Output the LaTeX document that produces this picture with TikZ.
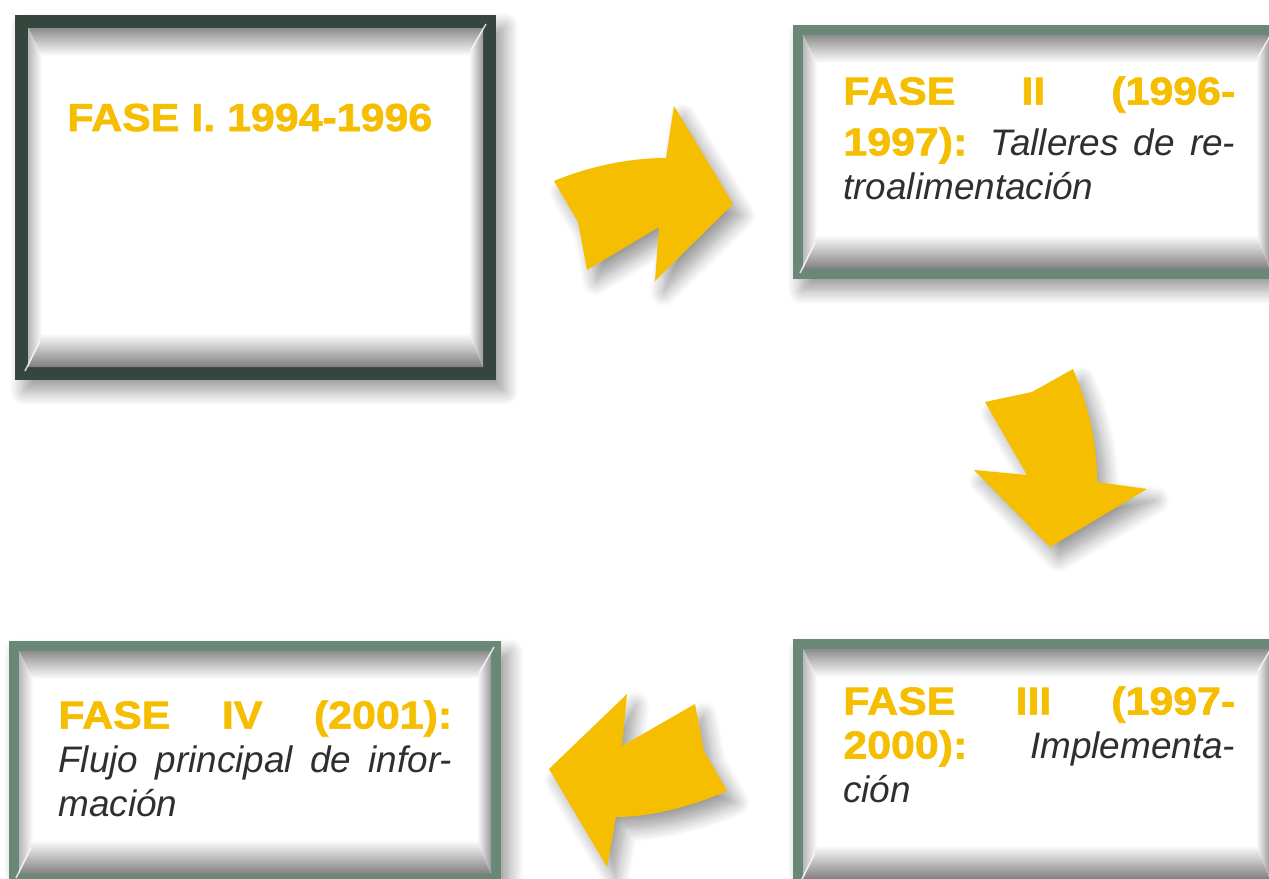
\documentclass[tikz,border=0pt]{standalone}
\usepackage{fontspec}
\setmainfont{Liberation Sans}
\newfontfamily\fasefont[FakeStretch=1.1,FakeBold=1.6]{Liberation Sans}
\usetikzlibrary{shadows.blur}

\definecolor{amarillo}{HTML}{F6BE00}
\definecolor{verdeoscuro}{HTML}{36463E}
\definecolor{verdegris}{HTML}{6A8878}
\definecolor{textogris}{HTML}{2F2F2F}

\tikzset{
  sombra/.style={blur shadow={shadow xshift=5pt, shadow yshift=-6.5pt,
      shadow blur radius=8pt, shadow blur steps=12, shadow opacity=40}},
  flecha/.style={fill=amarillo, sombra},
  fase/.style={inner sep=0pt, text=amarillo,
      font=\fasefont\bfseries\fontsize{22.2}{25}\selectfont},
  descripcion/.style={inner sep=0pt, anchor=north west, align=justify,
      text=textogris, font=\fontsize{21}{25}\selectfont\itshape}
}

% titulo amarillo dentro del texto
\newcommand{\fase}[1]{{\fasefont\bfseries\upshape\fontsize{22.2}{25}\selectfont\color{amarillo}#1}}

% marco con bisel: x0 y0 x1 y1 color grosor
\newcommand{\marco}[6]{%
  \fill[#5, sombra] (#1,#2) rectangle (#3,#4);
  \fill[white] (#1+#6,#2+#6) rectangle (#3-#6,#4-#6);
  \shade[top color=black!45, middle color=black!8, bottom color=white]
    (#1+#6,#2+#6) -- (#3-#6,#2+#6) -- (#3-#6-14,#2+#6+28) -- (#1+#6+14,#2+#6+28) -- cycle;
  \shade[top color=white, middle color=black!10, bottom color=black!50]
    (#1+#6,#4-#6) -- (#3-#6,#4-#6) -- (#3-#6-14,#4-#6-34) -- (#1+#6+14,#4-#6-34) -- cycle;
  \shade[left color=black!28, right color=white]
    (#1+#6,#2+#6) -- (#1+#6+14,#2+#6+28) -- (#1+#6+14,#4-#6-34) -- (#1+#6,#4-#6) -- cycle;
  \shade[left color=white, right color=black!40]
    (#3-#6,#2+#6) -- (#3-#6-14,#2+#6+28) -- (#3-#6-14,#4-#6-34) -- (#3-#6,#4-#6) -- cycle;
  \draw[white, line width=0.8pt, opacity=0.8] (#3-#6+3,#2+#6-4) -- (#3-#6-12,#2+#6+22);
  \draw[white, line width=0.8pt, opacity=0.8] (#1+#6-3,#4-#6+4) -- (#1+#6+12,#4-#6-26);
}

\begin{document}
\begin{tikzpicture}[x=0.02cm,y=-0.02cm]
  \clip (0,0) rectangle (1269,879);
  % marcos
  \marco{15}{15}{496}{380}{verdeoscuro}{13}
  \marco{793}{25}{1280}{279}{verdegris}{10}
  \marco{793}{639}{1280}{889}{verdegris}{10}
  \marco{9}{641}{501}{884}{verdegris}{10}
  % flechas
  \fill[flecha] (554,181) .. controls (590,166) and (630,158) .. (666,158) -- (674,106)
    -- (733,204) -- (655,281) -- (659,227) -- (587,270) -- (578,222) -- cycle;
  \fill[flecha] (985,402) -- (1032,392) -- (1073,369) .. controls (1090,410) and (1097,445) .. (1097,482)
    -- (1147,489) -- (1050,547) -- (974,470) -- (1027,475) -- cycle;
  \fill[flecha] (549,769) -- (627,694) -- (622,746) -- (695,704) -- (704,751) -- (727,791)
    .. controls (690,807) and (650,817) .. (616,817) -- (607,867) -- cycle;
  % textos
  \node[fase, anchor=base west] (fase1) at (67,131) {FASE I. 1994-1996};
  \node[descripcion, text width=7.84cm] (fase2) at (843,76)
    {\fase{FASE II (1996-\linebreak\rule{0pt}{23.3pt}1997):} Talleres de re-\linebreak troalimentación};
  \node[descripcion, text width=7.84cm] (fase3) at (843,686)
    {\fase{FASE III (1997-\linebreak 2000):} Implementa-\linebreak ción};
  \node[descripcion, text width=7.88cm] (fase4) at (58,700)
    {\fase{FASE IV (2001):}\linebreak Flujo principal de infor-\linebreak mación};
\end{tikzpicture}
\end{document}
